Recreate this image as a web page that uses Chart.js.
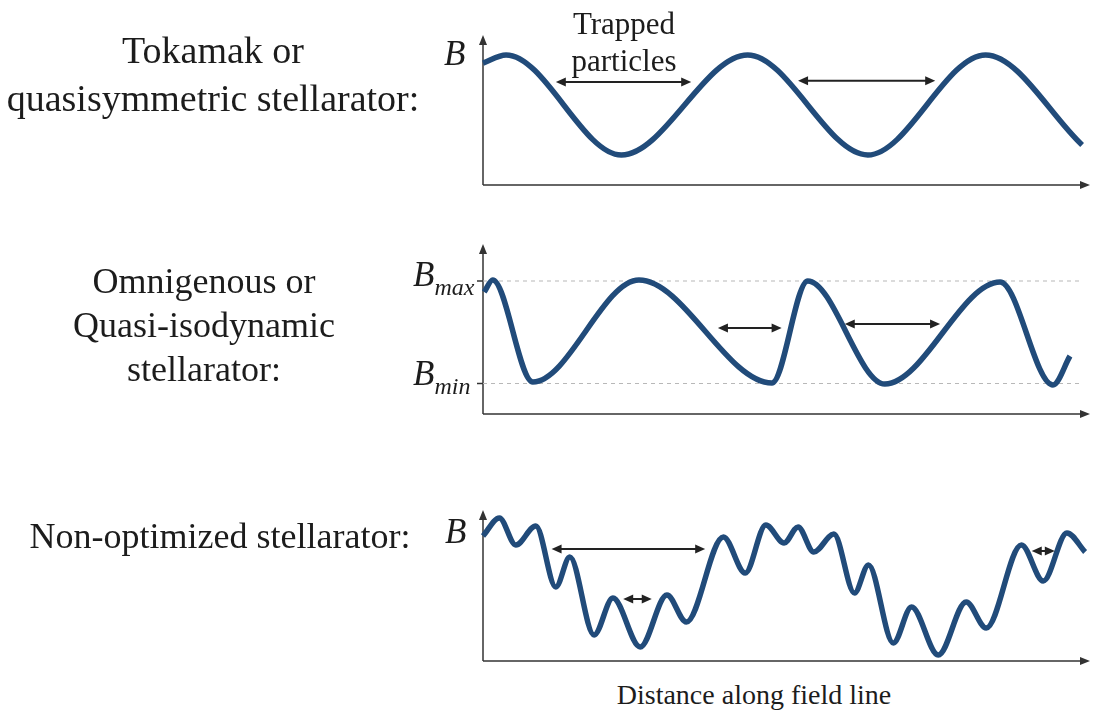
<!DOCTYPE html>
<html><head><meta charset="utf-8">
<script src="https://cdn.jsdelivr.net/npm/chart.js@4.4.1/dist/chart.umd.min.js"></script>
<style>
html,body{margin:0;padding:0;background:#fff;}
body{width:1093px;height:717px;position:relative;overflow:hidden;font-family:"Liberation Serif","Times New Roman",serif;color:#1c1c1c;}
canvas{position:absolute;left:0;}
.lbl{position:absolute;font-size:36px;text-align:center;white-space:nowrap;}
.b{position:absolute;font-style:italic;font-size:35px;line-height:35px;white-space:nowrap;}
.b sub{font-size:24px;vertical-align:baseline;position:relative;top:9px;}
</style></head>
<body>
<canvas id="c1" width="1093" height="200" style="top:0px"></canvas>
<canvas id="c2" width="1093" height="210" style="top:220px"></canvas>
<canvas id="c3" width="1093" height="185" style="top:490px"></canvas>

<div class="lbl" style="left:0;width:426px;top:26px;font-size:38px;line-height:48px;">Tokamak or<br>quasisymmetric stellarator:</div>
<div class="lbl" style="left:0;width:408px;top:259px;line-height:44px;">Omnigenous or<br>Quasi-isodynamic<br>stellarator:</div>
<div class="lbl" style="left:0;width:440px;top:515px;line-height:43px;">Non-optimized stellarator:</div>
<div class="lbl" style="left:524px;width:200px;top:5px;font-size:31px;line-height:37px;">Trapped<br>particles</div>
<div class="lbl" style="left:554px;width:400px;top:678px;font-size:28px;line-height:34px;">Distance along field line</div>

<div class="b" style="left:444px;top:36px;">B</div>
<div class="b" style="left:413px;top:257px;">B<sub>max</sub></div>
<div class="b" style="left:413px;top:356px;">B<sub>min</sub></div>
<div class="b" style="left:445px;top:514px;">B</div>

<script>
// ---- Panel 1: Tokamak / quasisymmetric ----
const p1Dist = [0, 3.8, 22.8, 43.6, 63.4, 82.8, 98.7];
const p1B    = [8.13, 8.67, 2.0, 8.67, 2.0, 8.67, 2.67];
const p1ArrowFrom = [12.0, 51.9];
const p1ArrowTo   = [34.3, 74.5];
const p1ArrowAt   = [6.87, 6.95];

// ---- Panel 2: Omnigenous / quasi-isodynamic ----
const p2Dist = [0.2, 1.6, 8.2, 25.7, 47.6, 53.5, 66.2, 85.2, 93.9, 96.7];
const p2B    = [12.2, 13.4, 3.2, 13.4, 3.1, 13.3, 3.0, 13.2, 2.9, 5.8];
const p2Levels = [13.3, 3.05];      // B_max, B_min
const p2LevelEnd = 98.4;
const p2ArrowFrom = [38.7, 59.6];
const p2ArrowTo   = [49.2, 75.3];
const p2ArrowAt   = [8.6, 9.0];

// ---- Panel 3: Non-optimized stellarator ----
const p3Dist = [0, 2.7, 5.4, 8.7, 12.0, 14.3, 18.3, 21.4, 25.9, 30.3, 33.5, 39.6, 43.2, 46.6, 49.6, 51.9, 54.5, 57.8, 61.2, 63.5, 67.6, 70.6, 75.0, 79.6, 82.9, 88.7, 92.3, 96.2, 99.2];
const p3B    = [12.5, 14.3, 11.6, 13.5, 7.4, 10.4, 2.6, 6.3, 1.4, 6.6, 3.9, 12.4, 8.8, 13.6, 11.8, 13.4, 10.9, 12.7, 6.8, 9.6, 1.8, 5.4, 0.6, 5.9, 3.3, 11.6, 8.0, 12.8, 10.9];
const p3ArrowFrom = [11.3, 23.1, 90.4];
const p3ArrowTo   = [36.6, 27.8, 94.2];
const p3ArrowAt   = [11.2, 6.2, 11.0];

const CURVE = '#214b7a';
const INK = '#222';

function pts(xs, ys){ return xs.map((x,i)=>({x, y: ys[i]})); }
function arrows(f,t,a){ return f.map((v,i)=>({from:v,to:t[i],at:a[i]})); }

function head(ctx, x, y, dir, len, hw){
  ctx.beginPath();
  if(dir==='up'){ ctx.moveTo(x,y); ctx.lineTo(x-hw,y+len); ctx.lineTo(x+hw,y+len); }
  else if(dir==='right'){ ctx.moveTo(x,y); ctx.lineTo(x-len,y-hw); ctx.lineTo(x-len,y+hw); }
  else { ctx.moveTo(x,y); ctx.lineTo(x+len,y-hw); ctx.lineTo(x+len,y+hw); }
  ctx.closePath(); ctx.fill();
}

const deco = {
  id:'deco',
  beforeDatasetsDraw(chart, args, o){
    const {ctx, scales:{x,y}} = chart;
    const x0 = x.getPixelForValue(0), y0 = y.getPixelForValue(0);
    const yTop = y.getPixelForValue(y.max), xEnd = x.getPixelForValue(x.max);
    ctx.save();
    ctx.strokeStyle = '#333'; ctx.fillStyle = '#333'; ctx.lineWidth = 1.5;
    ctx.beginPath(); ctx.moveTo(x0, y0); ctx.lineTo(x0, yTop+8); ctx.stroke();
    ctx.beginPath(); ctx.moveTo(x0, y0); ctx.lineTo(xEnd-8, y0); ctx.stroke();
    head(ctx, x0, yTop, 'up', 10, 4);
    head(ctx, xEnd, y0, 'right', 10, 4);
    (o.ticks||[]).forEach(v=>{
      const py = y.getPixelForValue(v);
      ctx.beginPath(); ctx.moveTo(x0-6, py); ctx.lineTo(x0, py); ctx.stroke();
    });
    ctx.restore();
  },
  afterDatasetsDraw(chart, args, o){
    const {ctx, scales:{x,y}} = chart;
    ctx.save();
    ctx.strokeStyle = INK; ctx.fillStyle = INK; ctx.lineWidth = 2;
    (o.arrows||[]).forEach(a=>{
      const xa = x.getPixelForValue(a.from), xb = x.getPixelForValue(a.to), py = y.getPixelForValue(a.at);
      ctx.beginPath(); ctx.moveTo(xa+6, py); ctx.lineTo(xb-6, py); ctx.stroke();
      head(ctx, xa, py, 'left', 10, 4.5);
      head(ctx, xb, py, 'right', 10, 4.5);
    });
    ctx.restore();
  }
};

function make(id, data, extra, ymax, pad, opts){
  const datasets = [{
    data: pts(data[0], data[1]), borderColor: CURVE, borderWidth: 5.5,
    cubicInterpolationMode: 'monotone', pointRadius: 0, clip: false, order: 1
  }].concat(extra);
  return new Chart(document.getElementById(id), {
    type: 'line',
    data: { datasets },
    options: {
      responsive: false, animation: false, devicePixelRatio: 1,
      layout: { padding: pad },
      scales: {
        x: { type: 'linear', min: 0, max: 100, display: false },
        y: { type: 'linear', min: 0, max: ymax, display: false }
      },
      plugins: { legend: {display:false}, tooltip: {enabled:false}, deco: opts }
    },
    plugins: [deco]
  });
}

make('c1', [p1Dist, p1B], [], 10, {left:483, right:3, top:35, bottom:15},
     { arrows: arrows(p1ArrowFrom, p1ArrowTo, p1ArrowAt) });

const levelSets = p2Levels.map(v=>({
  data: [{x:0, y:v}, {x:p2LevelEnd, y:v}], borderColor:'#b8b8b8', borderWidth:1,
  borderDash:[4,4], pointRadius:0, order: 2
}));
make('c2', [p2Dist, p2B], levelSets, 17, {left:483, right:3, top:24, bottom:16},
     { arrows: arrows(p2ArrowFrom, p2ArrowTo, p2ArrowAt), ticks: p2Levels });

make('c3', [p3Dist, p3B], [], 15.1, {left:483, right:3, top:20, bottom:14},
     { arrows: arrows(p3ArrowFrom, p3ArrowTo, p3ArrowAt) });
</script>
</body></html>
